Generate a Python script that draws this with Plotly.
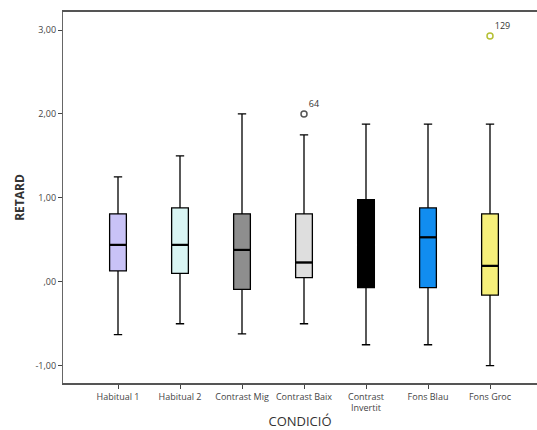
import plotly.graph_objects as go

categories = ["Habitual 1", "Habitual 2", "Contrast Mig", "Contrast Baix",
              "Contrast<br>Invertit", "Fons Blau", "Fons Groc"]
lower_whisker = [-0.63, -0.50, -0.62, -0.50, -0.75, -0.75, -1.00]
q1_values = [0.13, 0.10, -0.09, 0.05, -0.07, -0.07, -0.16]
median_values = [0.44, 0.44, 0.38, 0.23, 0.44, 0.53, 0.19]
q3_values = [0.81, 0.88, 0.81, 0.81, 0.98, 0.88, 0.81]
upper_whisker = [1.25, 1.50, 2.00, 1.75, 1.88, 1.88, 1.88]
fill_colors = ["#C9C3F7", "#D9F5F3", "#8E8E8E", "#DEDEDE", "#000000", "#118DF0", "#F7F07A"]

outlier_category = ["Contrast Baix", "Fons Groc"]
outlier_values = [2.00, 2.93]
outlier_labels = ["64", "129"]
outlier_colors = ["#555555", "#B5C034"]

y_ticks = [-1, 0, 1, 2, 3]
y_tick_labels = ["-1,00", ",00", "1,00", "2,00", "3,00"]

fig = go.Figure()
for i, cat in enumerate(categories):
    fig.add_trace(go.Box(
        x=[cat], q1=[q1_values[i]], median=[median_values[i]], q3=[q3_values[i]],
        lowerfence=[lower_whisker[i]], upperfence=[upper_whisker[i]],
        fillcolor=fill_colors[i], line=dict(color="#000000", width=1.3),
        width=0.27, whiskerwidth=0.5, showlegend=False, hoverinfo="skip",
    ))
    # thicker median line
    fig.add_trace(go.Scatter(
        x=[i - 0.135, i + 0.135], y=[median_values[i]] * 2, xaxis="x2",
        mode="lines", line=dict(color="#000000", width=2.2),
        showlegend=False, hoverinfo="skip",
    ))

cat_clean = [c.replace("<br>", " ") for c in categories]
for j, cat in enumerate(outlier_category):
    idx = cat_clean.index(cat)
    fig.add_trace(go.Scatter(
        x=[categories[idx]], y=[outlier_values[j]], mode="markers+text",
        marker=dict(symbol="circle-open", size=6, color=outlier_colors[j], line=dict(width=1.5)),
        text=[outlier_labels[j]], textposition="top right",
        textfont=dict(size=9, color="#333333", family="Open Sans"),
        showlegend=False, hoverinfo="skip",
    ))

xr = [-0.887, 6.758]
fig.update_layout(
    width=537, height=430,
    margin=dict(l=63, r=0, t=12, b=47),
    paper_bgcolor="white", plot_bgcolor="white",
    font=dict(family="Open Sans", size=9, color="#444444"),
    xaxis=dict(
        type="category", categoryorder="array", categoryarray=categories,
        range=xr, showgrid=False, zeroline=False,
        showline=True, linecolor="#555555", linewidth=1.6, mirror=True,
        ticks="outside", ticklen=4, tickcolor="#444444",
        tickfont=dict(size=9, color="#444444"),
        title=dict(text="CONDICIÓ", font=dict(size=13, color="#333333"), standoff=8),
    ),
    xaxis2=dict(overlaying="x", range=xr, visible=False),
    yaxis=dict(
        range=[-1.206, 3.215], tickvals=y_ticks, ticktext=y_tick_labels,
        showgrid=False, zeroline=False,
        showline=True, linecolor="#666666", linewidth=1.2,
        ticks="outside", ticklen=4, tickcolor="#444444",
        tickfont=dict(size=9, color="#444444"),
        title=dict(text="<b>RETARD</b>", font=dict(size=12, color="#333333"), standoff=8),
    ),
)

fig.write_html("out.html", config={"displayModeBar": False},
               post_script="document.body.style.margin='0';document.body.style.overflow='hidden';")
